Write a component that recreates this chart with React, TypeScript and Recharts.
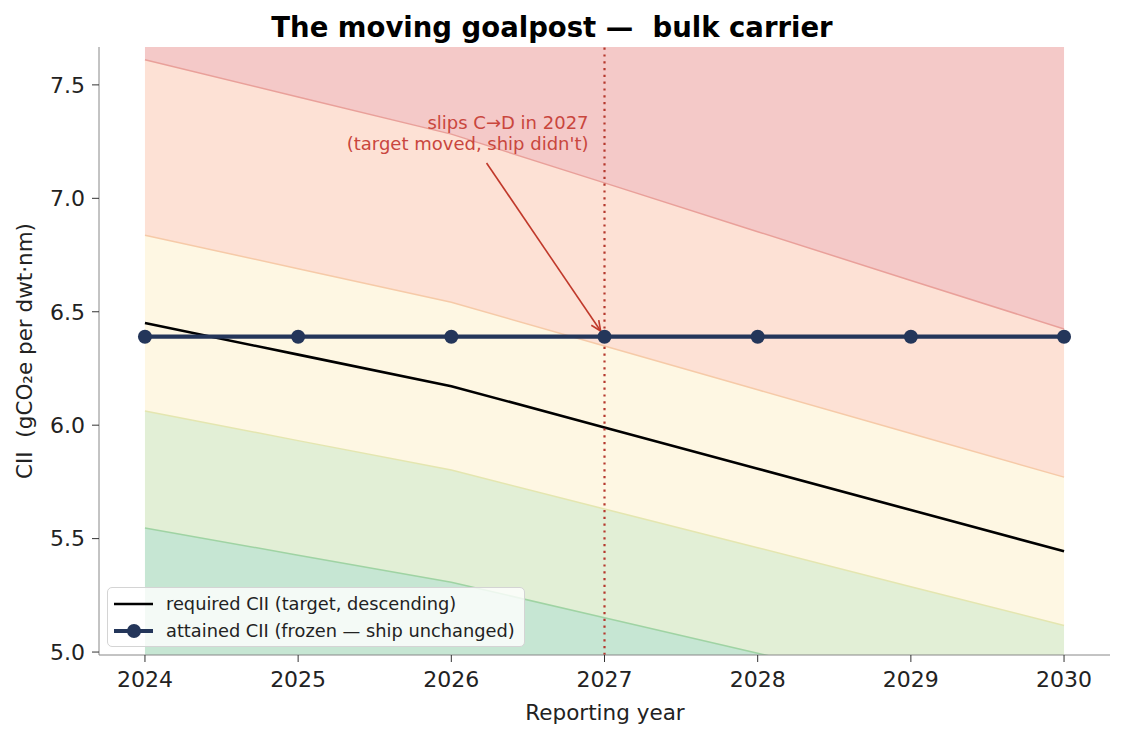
import {
  ComposedChart, Area, Line, XAxis, YAxis, ReferenceLine,
} from "recharts";

const YEARS = [2024, 2025, 2026, 2027, 2028, 2029, 2030];
const REQUIRED = [6.45, 6.311, 6.172, 5.99, 5.808, 5.626, 5.444];
const ATTAINED = [6.39, 6.39, 6.39, 6.39, 6.39, 6.39, 6.39];
// rating band boundaries (A/B, B/C, C/D, D/E)
const BOUND_AB = [5.547, 5.427, 5.308, 5.151, 4.995, 4.838, 4.682];
const BOUND_BC = [6.063, 5.932, 5.802, 5.631, 5.46, 5.288, 5.117];
const BOUND_CD = [6.837, 6.69, 6.542, 6.349, 6.156, 5.963, 5.771];
const BOUND_DE = [7.611, 7.447, 7.283, 7.068, 6.853, 6.638, 6.424];
const X_TICKS = [2024, 2025, 2026, 2027, 2028, 2029, 2030];
const Y_TICKS = [5.0, 5.5, 6.0, 6.5, 7.0, 7.5];
const SLIP_YEAR = 2027;
const NOTE_FROM = { x: 2026.23, y: 7.156 };
const NOTE_TO = { x: 2026.975, y: 6.415 };

const FONT = "'DejaVu Sans', sans-serif";
const NAVY = "#24365a";
const RED = "#b5382d";

const rows = YEARS.map((year, i) => ({
  year,
  req: REQUIRED[i],
  att: ATTAINED[i],
  ab: BOUND_AB[i],
  bc: BOUND_BC[i],
  cd: BOUND_CD[i],
  de: BOUND_DE[i],
}));

function NoteArrow(props: any) {
  const { x1, y1, x2, y2 } = props;
  const ang = Math.atan2(y2 - y1, x2 - x1);
  const len = 11;
  const spread = 0.42;
  const h1x = x2 - len * Math.cos(ang - spread);
  const h1y = y2 - len * Math.sin(ang - spread);
  const h2x = x2 - len * Math.cos(ang + spread);
  const h2y = y2 - len * Math.sin(ang + spread);
  return (
    <g>
      <line x1={x1} y1={y1} x2={x2} y2={y2} stroke="#c0392b" strokeWidth={1.6} />
      <polyline points={`${h1x},${h1y} ${x2},${y2} ${h2x},${h2y}`}
        fill="none" stroke="#c0392b" strokeWidth={1.6} />
      <text x={x1 + 102} y={y1 - 34} textAnchor="end" fontFamily={FONT}
        fontSize={18} fill="#c9463d">slips C→D in 2027</text>
      <text x={x1 + 102} y={y1 - 13} textAnchor="end" fontFamily={FONT}
        fontSize={18} fill="#c9463d">(target moved, ship didn't)</text>
    </g>
  );
}

export default function App() {
  const tick = { fontSize: 22, fill: "#222", fontFamily: FONT };
  return (
    <div style={{ position: "absolute", left: 0, top: 0, width: 1126, height: 755, background: "#fff" }}>
      <ComposedChart width={1126} height={755} data={rows}
        margin={{ top: 47, right: 16, bottom: 60, left: 39 }}>
        <XAxis dataKey="year" type="number" domain={[2023.7, 2030.3]} ticks={X_TICKS}
          allowDataOverflow tick={tick} tickSize={7} tickMargin={9} height={40}
          stroke="#888" tickLine={{ stroke: "#333" }} />
        <YAxis type="number" domain={[4.987, 7.667]} ticks={Y_TICKS} allowDataOverflow
          tick={tick} tickSize={7} tickMargin={7} width={60}
          tickFormatter={(v: number) => v.toFixed(1)}
          stroke="#888" tickLine={{ stroke: "#333" }} />

        <Area type="linear" dataKey="ab" stroke="none" fill="#c6e6d3" fillOpacity={1}
          isAnimationActive={false} />
        <Area type="linear" dataKey={(d: any) => [d.ab, d.bc]} stroke="none" fill="#e2efd6"
          fillOpacity={1} isAnimationActive={false} />
        <Area type="linear" dataKey={(d: any) => [d.bc, d.cd]} stroke="none" fill="#fef7e3"
          fillOpacity={1} isAnimationActive={false} />
        <Area type="linear" dataKey={(d: any) => [d.cd, d.de]} stroke="none" fill="#fde1d5"
          fillOpacity={1} isAnimationActive={false} />
        <Area type="linear" dataKey="de" baseValue="dataMax" stroke="none" fill="#f4c9c8"
          fillOpacity={1} isAnimationActive={false} />

        <Line type="linear" dataKey="ab" stroke="#9fd3a3" strokeWidth={1.5} dot={false}
          activeDot={false} isAnimationActive={false} />
        <Line type="linear" dataKey="bc" stroke="#e4e6b0" strokeWidth={1.5} dot={false}
          activeDot={false} isAnimationActive={false} />
        <Line type="linear" dataKey="cd" stroke="#f6caa8" strokeWidth={1.5} dot={false}
          activeDot={false} isAnimationActive={false} />
        <Line type="linear" dataKey="de" stroke="#e9a09a" strokeWidth={1.5} dot={false}
          activeDot={false} isAnimationActive={false} />

        <Line type="linear" dataKey="req" stroke="#000" strokeWidth={2.6} dot={false}
          activeDot={false} isAnimationActive={false} />
        <Line type="linear" dataKey="att" stroke={NAVY} strokeWidth={4.2}
          dot={{ r: 7, fill: NAVY, stroke: NAVY, strokeWidth: 0 }}
          activeDot={false} isAnimationActive={false} />

        <ReferenceLine x={SLIP_YEAR} stroke={RED} strokeWidth={2.2} strokeDasharray="2.2 4.6" />
        <ReferenceLine segment={[NOTE_FROM, NOTE_TO]} shape={NoteArrow} ifOverflow="visible" />
      </ComposedChart>

      <svg width={1126} height={755} style={{ position: "absolute", left: 0, top: 0, pointerEvents: "none", whiteSpace: "pre" }}>
        <text x={552} y={37} textAnchor="middle" fontFamily={FONT} fontSize={27.5}
          fontWeight="bold" fill="#000" xmlSpace="preserve">The moving goalpost —  bulk carrier</text>
        <text x={605} y={720} textAnchor="middle" fontFamily={FONT} fontSize={21.5}
          fill="#222">Reporting year</text>
        <text transform="translate(32,351) rotate(-90)" textAnchor="middle" fontFamily={FONT}
          fontSize={21.5} fill="#222" xmlSpace="preserve">CII  (gCO₂e per dwt·nm)</text>
      </svg>

      <div style={{
        position: "absolute", left: 107, top: 587, width: 416, height: 58,
        background: "rgba(255,255,255,0.8)", border: "1px solid #d4d4d4", borderRadius: 5,
        fontFamily: FONT, fontSize: 17.8, color: "#222",
      }}>
        <svg width={416} height={58} style={{ position: "absolute", left: 0, top: 0 }}>
          <line x1={6} y1={16} x2={45} y2={16} stroke="#000" strokeWidth={2.6} />
          <line x1={6} y1={43} x2={45} y2={43} stroke={NAVY} strokeWidth={4.2} />
          <circle cx={26} cy={43} r={7} fill={NAVY} />
          <text x={58} y={22} fontFamily={FONT} fontSize={17.8} fill="#222">required CII (target, descending)</text>
          <text x={58} y={49} fontFamily={FONT} fontSize={17.8} fill="#222">attained CII (frozen — ship unchanged)</text>
        </svg>
      </div>
    </div>
  );
}
